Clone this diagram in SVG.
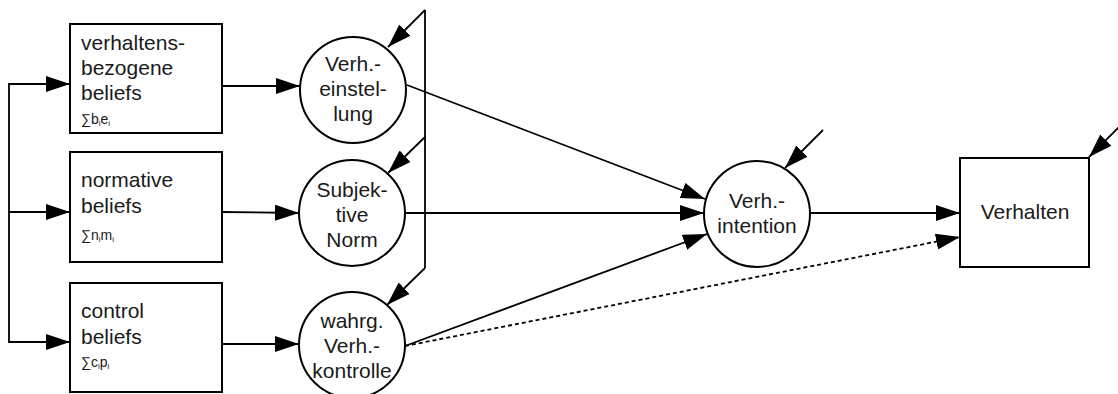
<svg xmlns="http://www.w3.org/2000/svg" width="1118" height="394" viewBox="0 0 1118 394">
  <defs>
    <marker id="arrow" markerUnits="userSpaceOnUse" markerWidth="24" markerHeight="16" refX="24" refY="8" orient="auto">
      <path d="M0,0 L24,8 L0,16 z" fill="#000"/>
    </marker>
    <style>
      .box { fill: #fff; stroke: #000; stroke-width: 2; }
      .node { fill: #fff; stroke: #000; stroke-width: 2; }
      .lbl { font-family: "Liberation Sans", Arial, sans-serif; font-size: 21px; fill: #1a1a1a; }
      .mid { text-anchor: middle; }
      .sum { font-family: "Liberation Sans", Arial, sans-serif; font-size: 14px; fill: #1a1a1a; }
      .sub { font-size: 8px; }
      .edge { fill: none; stroke: #000; stroke-width: 1.8; }
      .arr { marker-end: url(#arrow); }
      .dot { stroke-dasharray: 4 3; }
    </style>
  </defs>

  <!-- connectors -->
  <g id="connectors">
    <!-- common feed into the three belief boxes -->
    <polyline class="edge" points="50,84 9,84 9,342 49,342"/>
    <line class="edge arr" x1="9" y1="84" x2="70" y2="84"/>
    <line class="edge arr" x1="9" y1="212" x2="70" y2="212"/>
    <line class="edge arr" x1="9" y1="342" x2="70" y2="342"/>

    <!-- beliefs to attitudes -->
    <line class="edge arr" x1="222" y1="86" x2="300" y2="86"/>
    <line class="edge arr" x1="222" y1="212" x2="299" y2="213"/>
    <line class="edge arr" x1="222" y1="344" x2="299" y2="344"/>

    <!-- external influence bracket -->
    <line class="edge" x1="425" y1="10" x2="425" y2="268"/>
    <line class="edge arr" x1="425" y1="10" x2="388" y2="47"/>
    <line class="edge arr" x1="425" y1="137" x2="388" y2="173"/>
    <line class="edge arr" x1="425" y1="268" x2="387" y2="305"/>

    <!-- attitudes to intention -->
    <line class="edge arr" x1="407" y1="85" x2="705" y2="199"/>
    <line class="edge arr" x1="406" y1="213" x2="704" y2="213"/>
    <line class="edge arr" x1="405" y1="346" x2="707" y2="234"/>

    <!-- intention to behaviour -->
    <line class="edge arr" x1="810" y1="213" x2="960" y2="213"/>
    <line class="edge dot arr" x1="405" y1="346" x2="960" y2="237"/>

    <!-- outside influences -->
    <line class="edge arr" x1="823" y1="130" x2="785" y2="168"/>
    <line class="edge arr" x1="1122" y1="124" x2="1089" y2="157"/>
  </g>

  <!-- belief boxes -->
  <g id="beh-beliefs">
    <rect class="box" x="70" y="24" width="152" height="109"/>
    <text class="lbl" x="81" y="50">verhaltens-</text>
    <text class="lbl" x="81" y="75">bezogene</text>
    <text class="lbl" x="81" y="100">beliefs</text>
    <text class="sum" x="81" y="124">∑b<tspan class="sub" dy="1.5">i</tspan><tspan dy="-1.5">e</tspan><tspan class="sub" dy="1.5">i</tspan></text>
  </g>
  <g id="norm-beliefs">
    <rect class="box" x="70" y="152" width="152" height="110"/>
    <text class="lbl" x="81" y="187">normative</text>
    <text class="lbl" x="81" y="213">beliefs</text>
    <text class="sum" x="81" y="240">∑n<tspan class="sub" dy="1.5">i</tspan><tspan dy="-1.5">m</tspan><tspan class="sub" dy="1.5">i</tspan></text>
  </g>
  <g id="control-beliefs">
    <rect class="box" x="70" y="283" width="152" height="109"/>
    <text class="lbl" x="81" y="318">control</text>
    <text class="lbl" x="81" y="344">beliefs</text>
    <text class="sum" x="81" y="367">∑c<tspan class="sub" dy="1.5">i</tspan><tspan dy="-1.5">p</tspan><tspan class="sub" dy="1.5">i</tspan></text>
  </g>

  <!-- attitude nodes -->
  <g id="einstellung">
    <circle class="node" cx="353" cy="90" r="53"/>
    <text class="lbl mid" x="353" y="71">Verh.-</text>
    <text class="lbl mid" x="353" y="96">einstel-</text>
    <text class="lbl mid" x="353" y="121">lung</text>
  </g>
  <g id="norm">
    <circle class="node" cx="352" cy="213" r="53"/>
    <text class="lbl mid" x="352" y="197">Subjek-</text>
    <text class="lbl mid" x="352" y="222">tive</text>
    <text class="lbl mid" x="352" y="247">Norm</text>
  </g>
  <g id="kontrolle">
    <circle class="node" cx="352" cy="345" r="53"/>
    <text class="lbl mid" x="352" y="328">wahrg.</text>
    <text class="lbl mid" x="352" y="353">Verh.-</text>
    <text class="lbl mid" x="352" y="378">kontrolle</text>
  </g>

  <!-- intention -->
  <g id="intention">
    <circle class="node" cx="757" cy="214" r="53"/>
    <text class="lbl mid" x="757" y="208">Verh.-</text>
    <text class="lbl mid" x="757" y="233">intention</text>
  </g>

  <!-- behaviour -->
  <g id="verhalten">
    <rect class="box" x="960" y="158" width="129" height="109"/>
    <text class="lbl mid" x="1025" y="219">Verhalten</text>
  </g>
</svg>
